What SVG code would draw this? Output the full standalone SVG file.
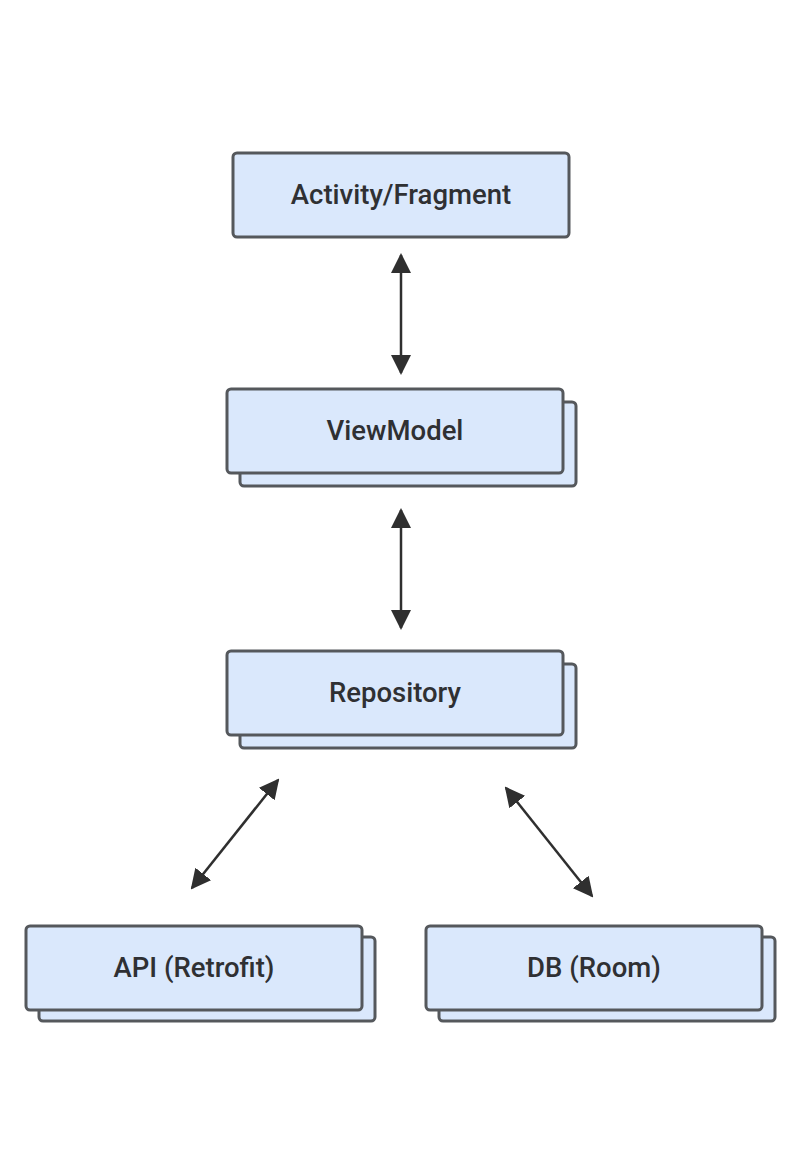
<svg xmlns="http://www.w3.org/2000/svg" width="800" height="1175" viewBox="0 0 800 1175">
<style>
.box{fill:#dae8fc;stroke:#55585c;stroke-width:3}
.lbl{font-family:Roboto,"Liberation Sans",sans-serif;font-size:27.5px;font-weight:500;fill:#2f3033;text-anchor:middle}
.conn{stroke:#2f2f2f;stroke-width:2.5;fill:none;marker-start:url(#ah);marker-end:url(#ah)}
</style>
<defs>
<marker id="ah" viewBox="0 0 10 10" refX="9" refY="5" markerWidth="8" markerHeight="8" markerUnits="strokeWidth" orient="auto-start-reverse">
<path d="M0,0 L10,5 L0,10 z" fill="#2f2f2f"/>
</marker>
</defs>
<rect width="800" height="1175" fill="#ffffff"/>
<g id="activity">
<rect class="box" x="233" y="153" width="336" height="84" rx="4"/>
<text class="lbl" x="401" y="204">Activity/Fragment</text>
</g>
<g id="viewmodel">
<rect class="box" x="240" y="402" width="336" height="84" rx="4"/>
<rect class="box" x="227" y="389" width="336" height="84" rx="4"/>
<text class="lbl" x="395" y="440">ViewModel</text>
</g>
<g id="repository">
<rect class="box" x="240" y="664" width="336" height="84" rx="4"/>
<rect class="box" x="227" y="651" width="336" height="84" rx="4"/>
<text class="lbl" x="395" y="702">Repository</text>
</g>
<g id="api">
<rect class="box" x="39" y="937" width="336" height="84" rx="4"/>
<rect class="box" x="26" y="926" width="336" height="84" rx="4"/>
<text class="lbl" x="194" y="977">API (Retrofit)</text>
</g>
<g id="db">
<rect class="box" x="439" y="937" width="336" height="84" rx="4"/>
<rect class="box" x="426" y="926" width="336" height="84" rx="4"/>
<text class="lbl" x="594" y="977">DB (Room)</text>
</g>
<g id="connectors">
<line class="conn" x1="401" y1="255" x2="401" y2="373"/>
<line class="conn" x1="401" y1="510" x2="401" y2="628"/>
<line class="conn" x1="278" y1="780" x2="192" y2="888"/>
<line class="conn" x1="506" y1="788" x2="592" y2="896"/>
</g>
</svg>
